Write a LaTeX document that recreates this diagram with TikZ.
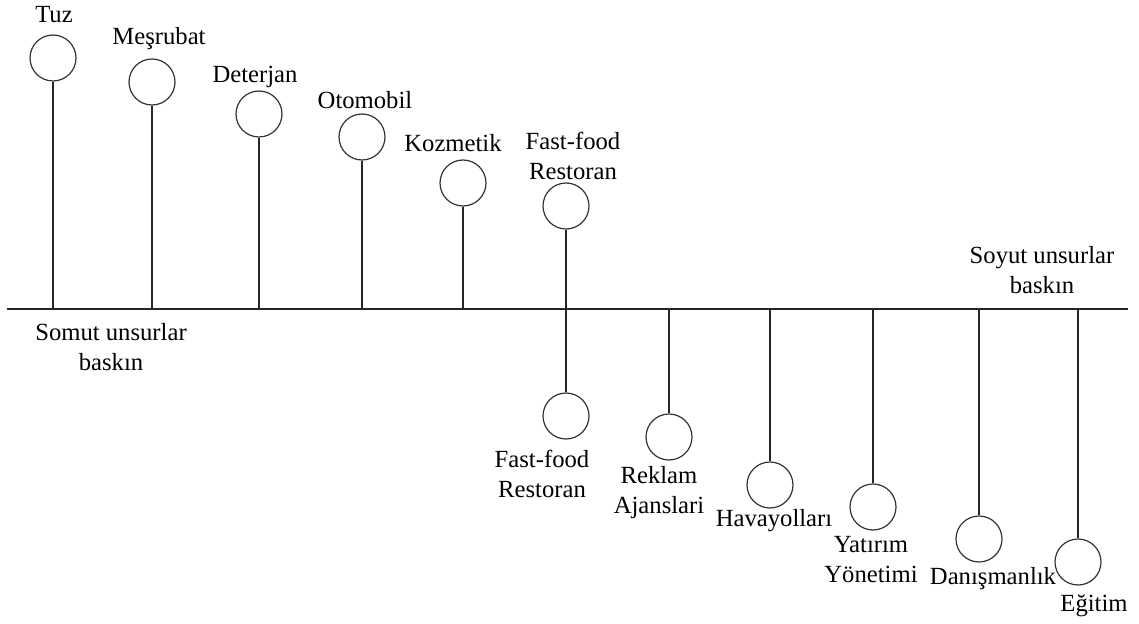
\documentclass[tikz,border=0pt]{standalone}
\usepackage{fontspec}
\setmainfont{Liberation Serif}
\begin{document}
\begin{tikzpicture}[x=0.75pt,y=-0.75pt,
  every node/.style={font=\fontsize{18.5}{22.5}\selectfont, text=black},
  ball/.style={circle, draw=black!80, line width=0.9pt, minimum size=34.5pt, inner sep=0pt},
  lbl/.style={inner sep=0pt, align=center},
  stem/.style={draw=black!85, line width=1pt}]
\useasboundingbox (0,0) rectangle (1139,624);
% axis
\coordinate (axL) at (7,309);
\coordinate (axR) at (1128,309);
\draw[stem] (axL) -- (axR);
% upper circles
\node[ball] (c1) at (53,58) {};
\node[ball] (c2) at (152,82) {};
\node[ball] (c3) at (259,114) {};
\node[ball] (c4) at (362,137) {};
\node[ball] (c5) at (463,183) {};
\node[ball] (c6) at (566,206) {};
% lower circles
\node[ball] (d1) at (566,416) {};
\node[ball] (d2) at (669,437) {};
\node[ball] (d3) at (770,485) {};
\node[ball] (d4) at (873,507) {};
\node[ball] (d5) at (979,539) {};
\node[ball] (d6) at (1078,562) {};
% stems
\foreach \n in {c1,c2,c3,c4,c5,c6}{\draw[stem] (\n.south) -- (\n.south |- axL);}
\foreach \n in {d1,d2,d3,d4,d5,d6}{\draw[stem] (\n.north) -- (\n.north |- axL);}
% labels
\node[lbl] (t1) at (54,15) {Tuz};
\node[lbl] (t2) at (159,39) {Meşrubat};
\node[lbl] (t3) at (255,77) {Deterjan};
\node[lbl] (t4) at (365,100) {Otomobil};
\node[lbl] (t5) at (453,143) {Kozmetik};
\node[lbl] (t6) at (573,156) {Fast-food\\Restoran};
\node[lbl] (b1) at (542,474) {Fast-food\\Restoran};
\node[lbl] (b2) at (659,493) {Reklam\\Ajanslari};
\node[lbl] (b3) at (774,521) {Havayolları};
\node[lbl] (b4) at (871,560) {Yatırım\\Yönetimi};
\node[lbl] (b5) at (993,579) {Danışmanlık};
\node[lbl] (b6) at (1094,606) {Eğitim};
\node[lbl] (som) at (111,347) {Somut unsurlar\\baskın};
\node[lbl] (soy) at (1042,270) {Soyut unsurlar\\baskın};
\end{tikzpicture}
\end{document}
